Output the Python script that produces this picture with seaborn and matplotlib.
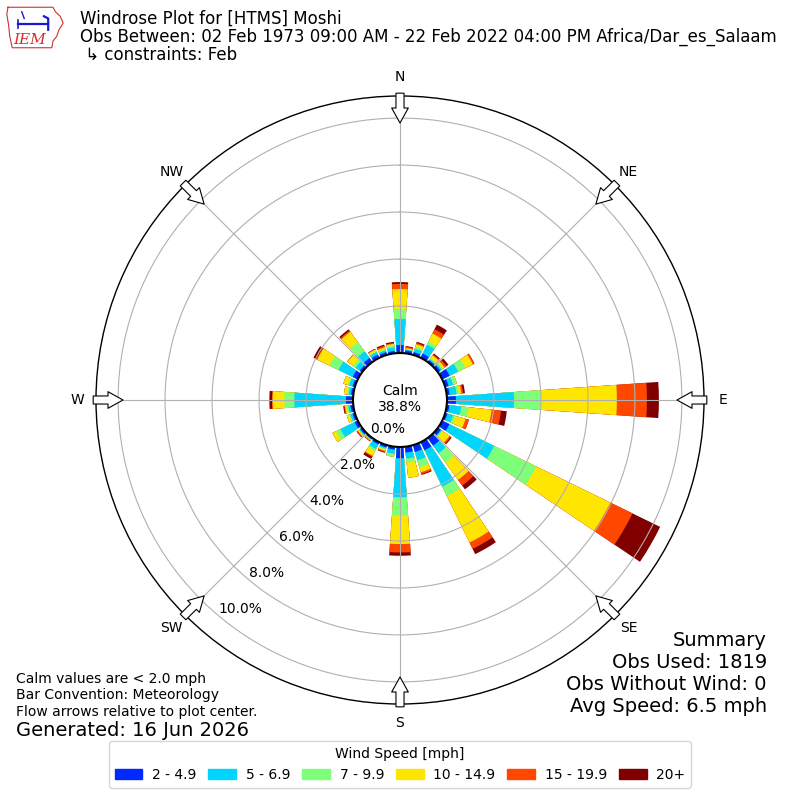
import numpy as np
import pandas as pd
import matplotlib
matplotlib.use("Agg")
import matplotlib.pyplot as plt
import matplotlib.patches as mpatches
import seaborn as sns

# ---------------- data (percent of observations) ----------------
directions = list(range(0, 360, 10))
speed_bins = ["2 - 4.9", "5 - 6.9", "7 - 9.9", "10 - 14.9", "15 - 19.9", "20+"]

pct_2_5 = [0.34, 0.12, 0.12, 0.20, 0.10, 0.12, 0.35, 0.15, 0.12, 0.38,
           0.11, 0.10, 0.34, 0.15, 0.40, 0.38, 0.30, 0.25, 0.48, 0.12,
           0.10, 0.10, 0.06, 0.10, 0.15, 0.10, 0.12, 0.30, 0.10, 0.10,
           0.24, 0.12, 0.21, 0.15, 0.12, 0.10]
pct_5_7 = [1.11, 0.04, 0.15, 0.42, 0.05, 0.08, 0.40, 0.20, 0.30, 2.47,
           0.51, 0.25, 2.12, 0.05, 0.40, 1.72, 0.37, 0.26, 1.66, 0.18,
           0.06, 0.22, 0.03, 0.04, 0.67, 0.10, 0.10, 2.20, 0.10, 0.15,
           0.67, 0.22, 0.35, 0.12, 0.08, 0.15]
pct_7_10 = [0.42, 0.02, 0.10, 0.15, 0.05, 0.05, 0.35, 0.15, 0.10, 1.15,
            0.32, 0.10, 1.99, 0.05, 0.50, 0.45, 0.31, 0.17, 0.78, 0.13,
            0.04, 0.10, 0.02, 0.03, 0.21, 0.05, 0.05, 0.42, 0.05, 0.06,
            0.43, 0.12, 0.49, 0.04, 0.05, 0.10]
pct_10_15 = [0.85, 0.04, 0.10, 0.38, 0.15, 0.10, 0.35, 0.02, 0.10, 3.23,
             0.98, 0.45, 3.51, 0.35, 0.90, 2.20, 0.22, 0.65, 1.21, 0.00,
             0.06, 0.22, 0.03, 0.05, 0.17, 0.11, 0.08, 0.50, 0.15, 0.20,
             0.58, 0.30, 0.54, 0.08, 0.08, 0.05]
pct_15_20 = [0.22, 0.06, 0.06, 0.20, 0.05, 0.10, 0.07, 0.00, 0.08, 1.28,
             0.40, 0.15, 1.05, 0.07, 0.30, 0.30, 0.08, 0.00, 0.36, 0.00,
             0.05, 0.05, 0.02, 0.05, 0.00, 0.00, 0.04, 0.03, 0.00, 0.00,
             0.04, 0.02, 0.06, 0.02, 0.07, 0.04]
pct_20p = [0.08, 0.03, 0.05, 0.22, 0.05, 0.10, 0.01, 0.00, 0.08, 0.51,
           0.25, 0.00, 1.31, 0.05, 0.20, 0.25, 0.04, 0.00, 0.14, 0.00,
           0.03, 0.10, 0.02, 0.02, 0.00, 0.00, 0.04, 0.11, 0.00, 0.00,
           0.14, 0.00, 0.07, 0.02, 0.05, 0.05]

calm_pct = 38.8
r_ticks = [0, 2, 4, 6, 8, 10]
compass_labels = ["N", "NE", "E", "SE", "S", "SW", "W", "NW"]
compass_degrees = list(range(0, 360, 45))

title_lines = ["Windrose Plot for [HTMS] Moshi",
               "Obs Between: 02 Feb 1973 09:00 AM - 22 Feb 2022 04:00 PM Africa/Dar_es_Salaam",
               " \u21b3 constraints: Feb"]
notes = ["Calm values are < 2.0 mph", "Bar Convention: Meteorology",
         "Flow arrows relative to plot center."]
generated = "Generated: 16 Jun 2026"
summary = ["Summary", "Obs Used: 1819", "Obs Without Wind: 0", "Avg Speed: 6.5 mph"]

# ---------------- figure ----------------
colors = plt.get_cmap("jet")(np.arange(1, 7) / 6.0)

fig = plt.figure(figsize=(8, 8), dpi=100)
ax = fig.add_axes([0.12, 0.12, 0.76, 0.76], projection="polar")
ax.set_theta_zero_location("N")
ax.set_theta_direction(-1)

layers = np.array([pct_2_5, pct_5_7, pct_7_10, pct_10_15, pct_15_20, pct_20p])
cum = np.cumsum(layers, axis=0)
theta = np.deg2rad(directions)
for j in range(len(speed_bins) - 1, -1, -1):
    df = pd.DataFrame({"theta": theta, "pct": cum[j]})
    sns.barplot(data=df, x="theta", y="pct", native_scale=True, orient="x",
                color=colors[j], saturation=1, errorbar=None, width=0.8,
                edgecolor="none", linewidth=0, ax=ax)

ax.set_xlabel("")
ax.set_ylabel("")
ax.set_ylim(0, 10.94)
ax.set_rorigin(-2.0)
ax.set_xticks(np.deg2rad(compass_degrees))
ax.set_xticklabels(compass_labels)
ax.set_yticks(r_ticks)
ax.set_yticklabels([f"{v:.1f}%" for v in r_ticks])
ax.set_rlabel_position(220)
ax.grid(True, color="#b0b0b0", lw=0.8)
ax.tick_params(axis="x", pad=3.2, labelsize=10)
ax.tick_params(axis="y", labelsize=10)
ax.spines["polar"].set_linewidth(1.0)
ax.spines["inner"].set_linewidth(1.5)
ax.spines["inner"].set_color("black")

for d in compass_degrees:
    ax.annotate("", xy=(np.deg2rad(d), 9.79), xytext=(np.deg2rad(d), 11.06),
                arrowprops=dict(arrowstyle="simple,head_length=1.08,head_width=1.2,tail_width=0.58",
                                fc="white", ec="black", lw=0.8, shrinkA=0, shrinkB=0),
                annotation_clip=False, zorder=5)

fig.text(0.5, 1 - 399 / 800, f"Calm\n{calm_pct:.1f}%", ha="center", va="center", fontsize=10)

# title
for i, line in enumerate(title_lines):
    fig.text(0.1, 1 - (19 + 18 * i) / 800, line, ha="left", va="center", fontsize=12)

for i, line in enumerate(notes):
    fig.text(0.02, 1 - (679 + 16.5 * i) / 800, line, ha="left", va="center", fontsize=10)
fig.text(0.02, 1 - 730 / 800, generated, ha="left", va="center", fontsize=14)

for i, line in enumerate(summary):
    fig.text(767 / 800, 1 - (640 + 22 * i) / 800, line, ha="right", va="center", fontsize=14)

handles = [mpatches.Patch(color=c, label=l) for c, l in zip(colors, speed_bins)]
fig.legend(handles=handles, loc="center", bbox_to_anchor=(0.5, 1 - 764.5 / 800), ncol=6,
           title="Wind Speed [mph]", fontsize=10, title_fontsize=10, frameon=True,
           columnspacing=0.85, handletextpad=0.7)

# logo
lax = fig.add_axes([5 / 800, 1 - 50 / 800, 60 / 800, 45 / 800])
lax.set_xlim(0, 1)
lax.set_ylim(0, 1)
lax.axis("off")
iowa_x = [0.05, 0.80, 0.84, 0.92, 0.97, 0.90, 0.86, 0.80, 0.78, 0.12, 0.08, 0.06, 0.03, 0.05]
iowa_y = [0.95, 0.95, 0.85, 0.75, 0.60, 0.45, 0.30, 0.20, 0.05, 0.05, 0.30, 0.55, 0.80, 0.95]
lax.plot(iowa_x, iowa_y, color="#d03030", lw=0.8)
lax.plot([0.22, 0.72], [0.58, 0.58], color="#1a1acc", lw=1.6)
lax.plot([0.22, 0.22], [0.50, 0.66], color="#1a1acc", lw=1.2)
lax.plot([0.65, 0.72, 0.72], [0.75, 0.70, 0.45], color="#1a1acc", lw=1.6)
lax.plot([0.28, 0.32], [0.85, 0.70], color="#1a1acc", lw=1.0)
lax.text(0.13, 0.22, "IEM", color="#d03030", fontsize=11, style="italic",
         family="DejaVu Serif", ha="left", va="center")

fig.savefig("out.png", dpi=100)
